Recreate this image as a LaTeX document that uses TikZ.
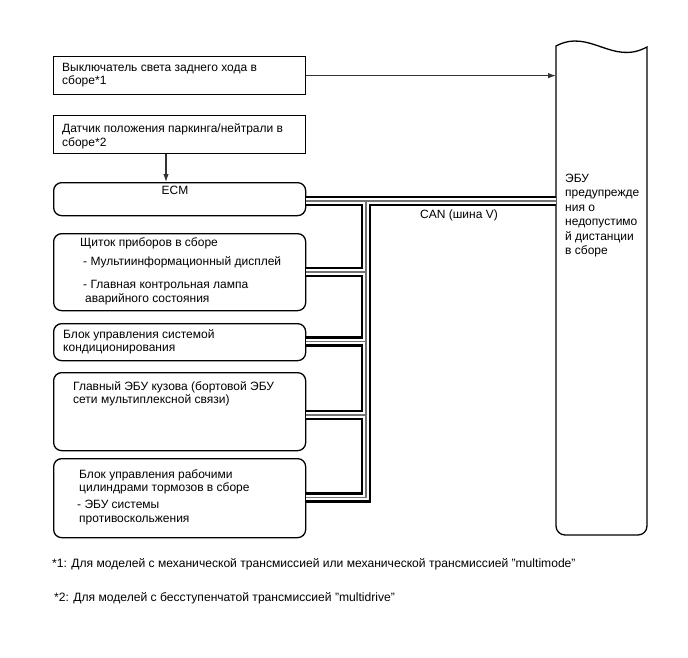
\documentclass[tikz,border=0pt]{standalone}
\usepackage{fontspec}
\setmainfont{Liberation Sans}
\usetikzlibrary{arrows.meta}
\begin{document}
\begin{tikzpicture}[x=1bp,y=-1bp,
  box/.style={draw, line width=1.3bp, anchor=north west, inner sep=0pt, minimum width=252bp},
  rbox/.style={box, rounded corners=8bp},
  txt/.style={anchor=base west, inner sep=0pt, font=\fontsize{12bp}{14bp}\selectfont},
  foot/.style={anchor=base west, inner sep=0pt, font=\fontsize{12.1bp}{14bp}\selectfont},
  arr/.style={line width=1.1bp, black!80, -{Latex[length=8bp,width=5.5bp]}}
]
\useasboundingbox[fill=white] (0,0) rectangle (688,658);

% boxes
\node[box, minimum height=38bp] (b1) at (53,56) {};
\node[box, minimum height=38bp] (b2) at (53,115) {};
\node[rbox, minimum height=33bp] (ecm) at (53,182) {};
\node[rbox, minimum height=77bp] (sh) at (53,233) {};
\node[rbox, minimum height=37bp] (ac) at (53,323) {};
\node[rbox, minimum height=78bp] (bd) at (53,372) {};
\node[rbox, minimum height=79bp] (br) at (53,458) {};
\node[anchor=north west, inner sep=0pt, minimum width=91bp, minimum height=489bp] (ecu) at (556,46) {};

% ECU shape
\draw[line width=1.3bp] (647,47) [rounded corners=9bp] -- (647,535) -- (556,535) [sharp corners] -- (556,46) .. controls (590,28) and (612,66) .. (647,47) -- cycle;

% texts
\node[txt] (t1a) at (62,71.5) {Выключатель света заднего хода в};
\node[txt] (t1b) at (62,85) {сборе*1};
\node[txt] (t2a) at (62,132.5) {Датчик положения паркинга/нейтрали в};
\node[txt] (t2b) at (62,146) {сборе*2};
\node[txt, anchor=base] (tecm) at (175,194) {ECM};
\node[txt] (t3a) at (80,246.5) {Щиток приборов в сборе};
\node[txt] (t3b) at (83,265) {- Мультиинформационный дисплей};
\node[txt] (t3c) at (83,288) {- Главная контрольная лампа};
\node[txt] (t3d) at (85,302) {аварийного состояния};
\node[txt] (t4a) at (63,338) {Блок управления системой};
\node[txt] (t4b) at (63,351.5) {кондиционирования};
\node[txt] (t5a) at (73,390) {Главный ЭБУ кузова (бортовой ЭБУ};
\node[txt] (t5b) at (73,403.5) {сети мультиплексной связи)};
\node[txt] (t6a) at (79,478) {Блок управления рабочими};
\node[txt] (t6b) at (79,491.5) {цилиндрами тормозов в сборе};
\node[txt] (t6c) at (77,508) {- ЭБУ системы};
\node[txt] (t6d) at (79,522) {противоскольжения};
\node[txt, align=left, anchor=north west, font=\fontsize{12bp}{14.4bp}\selectfont] (tecu) at (565,174) {ЭБУ\\предупрежде\\ния о\\недопустимо\\й дистанции\\в сборе};
\node[txt] (tcan) at (420,218) {CAN (шина V)};
\node[foot] (f1) at (52,567.5) {*1: Для моделей с механической трансмиссией или механической трансмиссией "multimode"};
\node[foot] (f2) at (54,601) {*2: Для моделей с бесступенчатой трансмиссией "multidrive"};

% arrows
\draw[arr] (b1.east) -- (b1.east -| ecu.west);
\draw[arr] ([xshift=113bp]b2.south west) -- ([xshift=113bp]ecm.north west);

% bus
\coordinate (j0) at (366,201);
\coordinate (j1) at (366,272);
\coordinate (j2) at (366,341.5);
\coordinate (j3) at (366,415);
\coordinate (j4) at (366,497.5);
\foreach \w/\c in {10.5/black, 5.6/white, 1.2/black!55} {
  \draw[line width=\w bp, \c, line join=miter] (ecm.east |- j0) -- (j0 -| ecu.west);
  \draw[line width=\w bp, \c, line join=miter] (j0) -- (j4) -- (br.east |- j4);
  \draw[line width=\w bp, \c] (sh.east |- j1) -- (j1);
  \draw[line width=\w bp, \c] (ac.east |- j2) -- (j2);
  \draw[line width=\w bp, \c] (bd.east |- j3) -- (j3);
}
\end{tikzpicture}
\end{document}
